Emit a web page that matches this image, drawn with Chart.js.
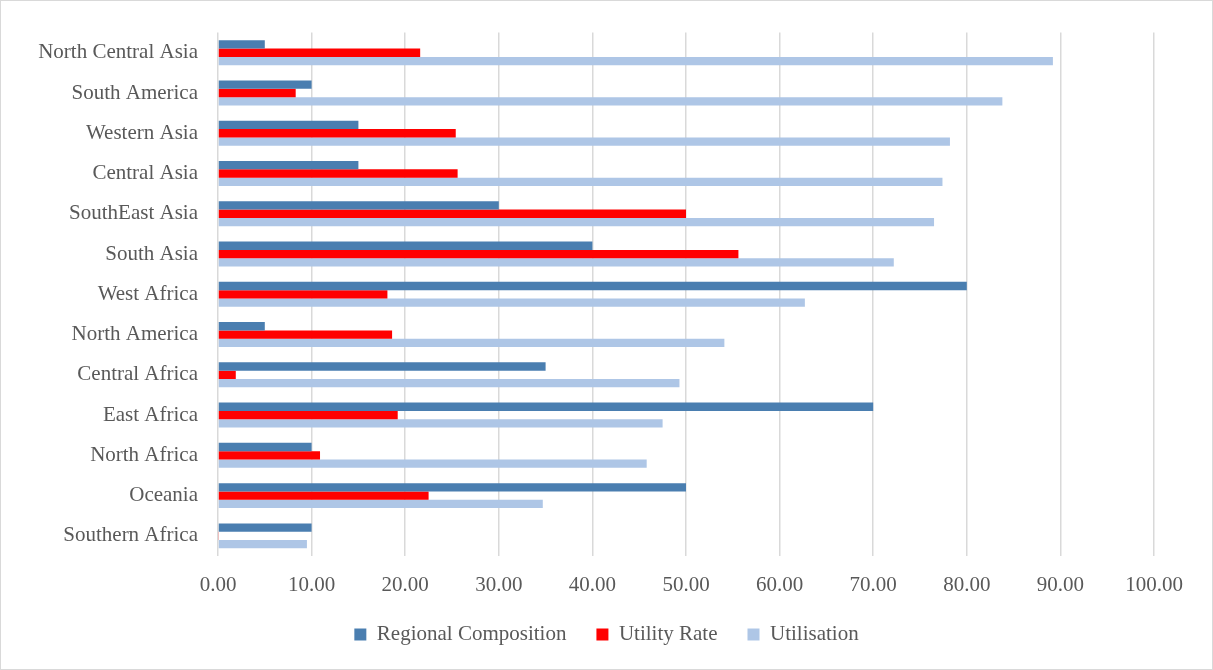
<!DOCTYPE html>
<html>

<head>
    <meta charset="UTF-8">
    <title>Regional Utilisation</title>
    <script src="https://cdn.jsdelivr.net/npm/chart.js"></script>
    <style>
        body { margin: 0; background: #fff; }
    </style>
</head>

<body>
    <canvas id="chart" width="1213" height="670"></canvas>
    <script>
        // categories, top to bottom as shown
        var regions = ['North Central Asia', 'South America', 'Western Asia', 'Central Asia',
            'SouthEast Asia', 'South Asia', 'West Africa', 'North America', 'Central Africa',
            'East Africa', 'North Africa', 'Oceania', 'Southern Africa'];
        var regionalComposition = [5, 10, 15, 15, 30, 40, 80, 5, 35, 70, 10, 50, 10];
        var utilityRate = [21.6, 8.3, 25.4, 25.6, 50, 55.6, 18.1, 18.6, 1.9, 19.2, 10.9, 22.5, 0.1];
        var utilisation = [89.2, 83.8, 78.2, 77.4, 76.5, 72.2, 62.7, 54.1, 49.3, 47.5, 45.8, 34.7, 9.5];
        var xTicks = [0, 10, 20, 30, 40, 50, 60, 70, 80, 90, 100];

        var fontFamily = '"Liberation Serif", "DejaVu Serif", serif';
        var textColor = '#595959';

        // thin grey frame round the whole chart, like the Excel chart area
        var framePlugin = {
            id: 'frame',
            afterDraw: function (chart) {
                var c = chart.ctx;
                c.save();
                c.strokeStyle = '#d9d9d9';
                c.lineWidth = 1;
                c.strokeRect(0.5, 0.5, chart.width - 1, chart.height - 1);
                c.restore();
            }
        };

        var ctx = document.getElementById('chart').getContext('2d');
        var chart = new Chart(ctx, {
            type: 'bar',
            data: {
                labels: regions,
                datasets: [
                    {
                        label: 'Regional Composition',
                        data: regionalComposition,
                        backgroundColor: '#4a7eb0',
                    },
                    {
                        label: 'Utility Rate',
                        data: utilityRate,
                        backgroundColor: '#ff0000',
                    },
                    {
                        label: 'Utilisation',
                        data: utilisation,
                        backgroundColor: '#aec6e6',
                    },
                ],
            },
            options: {
                indexAxis: 'y',
                responsive: false,
                animation: false,
                layout: {
                    padding: { top: 28, right: 0, bottom: 15, left: 0 },
                },
                datasets: {
                    bar: {
                        categoryPercentage: 0.62,
                        barPercentage: 1.0,
                    },
                },
                scales: {
                    x: {
                        min: 0,
                        max: 100,
                        afterBuildTicks: function (scale) {
                            scale.ticks = xTicks.map(function (v) { return { value: v }; });
                        },
                        afterFit: function (scale) {
                            scale.height = 38;
                            scale.paddingRight = 59; // keep plot right edge at ~1154
                        },
                        border: { display: false },
                        grid: {
                            color: '#d9d9d9',
                            lineWidth: 1.5,
                            drawTicks: false,
                        },
                        ticks: {
                            padding: 17,
                            color: textColor,
                            font: { family: fontFamily, size: 21 },
                            callback: function (value) { return Number(value).toFixed(2); },
                        },
                    },
                    y: {
                        afterFit: function (scale) {
                            scale.width = 218;
                        },
                        border: { display: false },
                        grid: { display: false, drawTicks: false },
                        ticks: {
                            padding: 20,
                            color: textColor,
                            font: { family: fontFamily, size: 21 },
                        },
                    },
                },
                plugins: {
                    legend: {
                        position: 'bottom',
                        labels: {
                            boxWidth: 12,
                            boxHeight: 12,
                            padding: 30,
                            color: textColor,
                            font: { family: fontFamily, size: 21 },
                        },
                    },
                    tooltip: { enabled: false },
                },
            },
            plugins: [framePlugin],
        });
    </script>
</body>

</html>
